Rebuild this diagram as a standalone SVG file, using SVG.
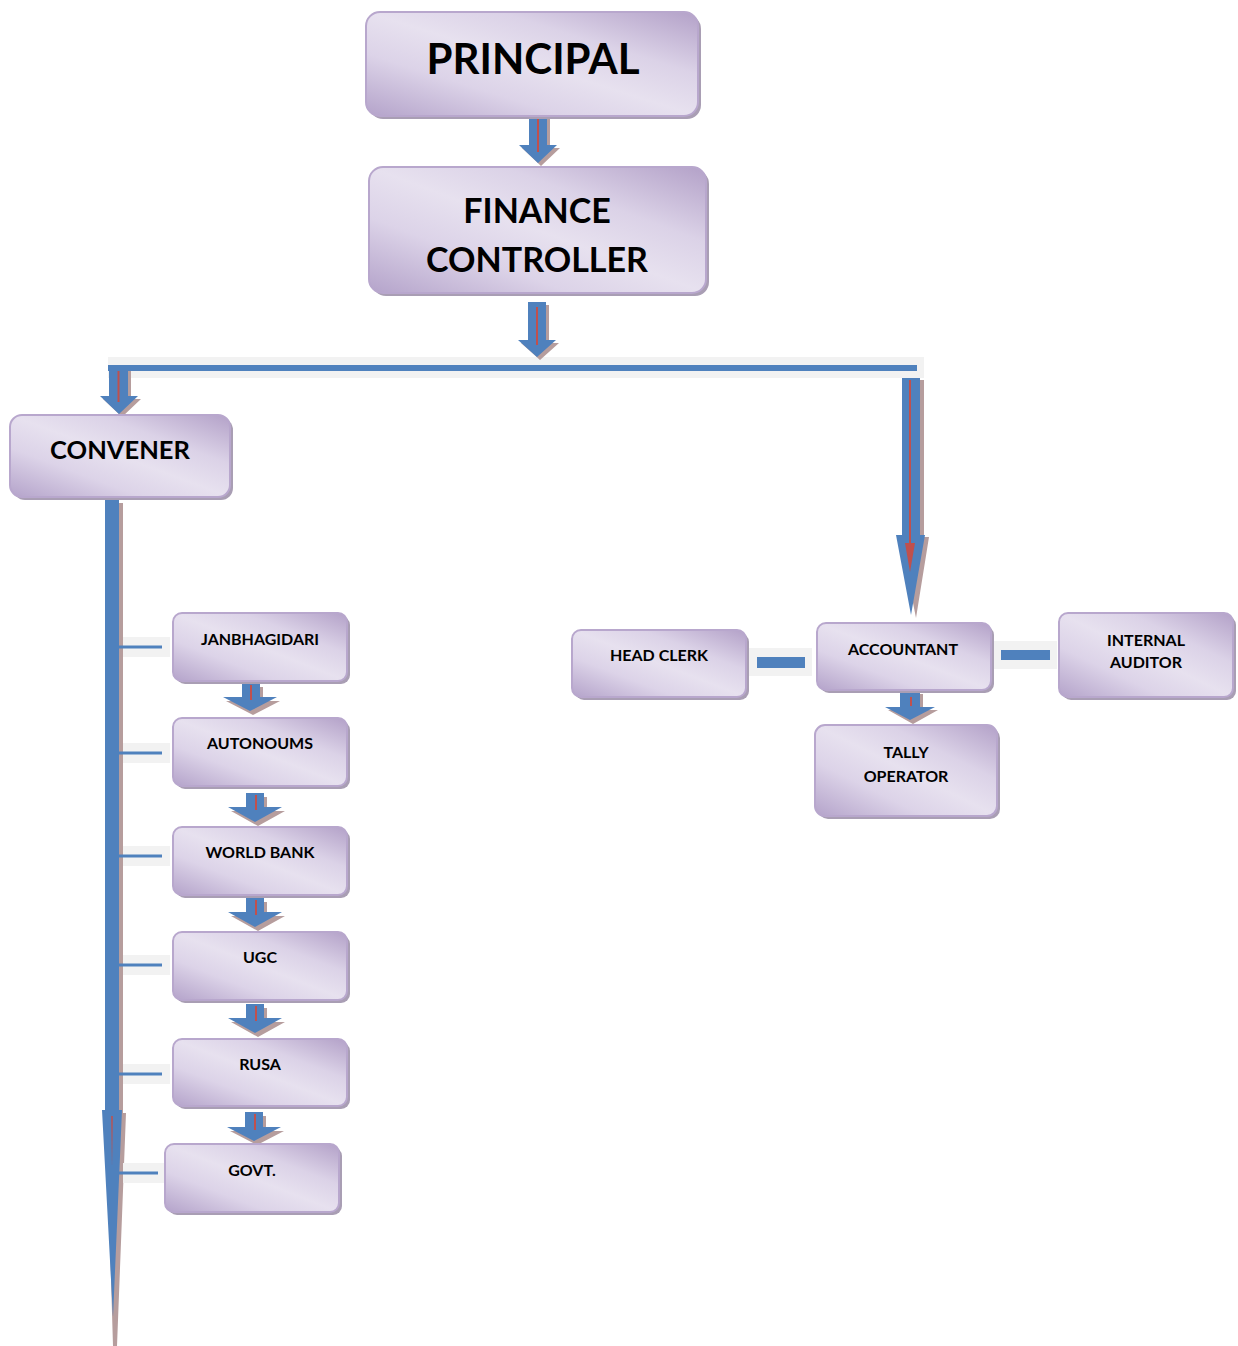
<svg xmlns="http://www.w3.org/2000/svg" width="1238" height="1346" viewBox="0 0 1238 1346">
<defs>
<linearGradient id="boxfill" x1="0" y1="1" x2="1" y2="0">
<stop offset="0" stop-color="#b4a3ca"/>
<stop offset="0.3" stop-color="#dcd3e8"/>
<stop offset="0.5" stop-color="#e7e1ef"/>
<stop offset="0.7" stop-color="#dbd2e7"/>
<stop offset="1" stop-color="#b3a1c8"/>
</linearGradient>
<style>
.box{fill:url(#boxfill);stroke:#b8a7cd;stroke-width:2}
.sh{fill:#a99eb4}
.lbl{font-family:Lato,"Open Sans","Liberation Sans",sans-serif;font-weight:700;text-anchor:middle;fill:#000}
.blue{fill:#4f81bd}
.ash{fill:#b69d9d}
.band{fill:#f2f2f2}
.red{stroke:#c0504d;stroke-width:2;fill:none}
.redf{fill:#c0504d}
</style>
</defs>
<rect width="1238" height="1346" fill="#fff"/>

<g id="connectors">
<!-- horizontal bus -->
<rect class="band" x="108" y="357" width="816" height="21"/>
<rect class="blue" x="108" y="365" width="809" height="6"/>
<!-- left vertical long arrow -->
<polygon class="ash" points="108,503 123,503 123,1113 126,1113 117,1346 113,1346 106,1113 108,1113"/>
<polygon class="blue" points="105,500 119,500 119,1110 122,1110 113,1317 102,1110 105,1110"/>
<polygon class="redf" points="111.2,1116 112.8,1116 112,1166"/>
<!-- ticks -->
<rect class="band" x="123" y="637" width="47" height="20"/>
<rect class="blue" x="119" y="645.5" width="43" height="3"/>
<rect class="band" x="123" y="743" width="47" height="20"/>
<rect class="blue" x="119" y="751.5" width="43" height="3"/>
<rect class="band" x="123" y="846" width="47" height="20"/>
<rect class="blue" x="119" y="854.5" width="43" height="3"/>
<rect class="band" x="123" y="955" width="47" height="20"/>
<rect class="blue" x="119" y="963.5" width="43" height="3"/>
<rect class="band" x="123" y="1064" width="47" height="20"/>
<rect class="blue" x="119" y="1072.5" width="43" height="3"/>
<rect class="band" x="123" y="1163" width="42" height="20"/>
<rect class="blue" x="119" y="1171.5" width="39" height="3"/>
<!-- principal -> finance controller -->
<polygon class="ash" points="532,114 550,114 550,148 560,148 541,166 522,148 532,148"/>
<polygon class="blue" points="529,111 547,111 547,145 557,145 538,163 519,145 529,145"/>
<line class="red" x1="538" y1="116" x2="538" y2="152"/>
<!-- finance controller -> bus -->
<polygon class="ash" points="531,305 549,305 549,343 559,343 540,360 521,343 531,343"/>
<polygon class="blue" points="528,302 546,302 546,340 556,340 537,357 518,340 528,340"/>
<line class="red" x1="537" y1="307" x2="537" y2="345"/>
<!-- bus -> convener -->
<polygon class="ash" points="112,371 131,371 131,399 141,399 122,417 103,399 112,399"/>
<polygon class="blue" points="109,368 128,368 128,396 138,396 119,414 100,396 109,396"/>
<line class="red" x1="118.5" y1="371" x2="118.5" y2="402"/>
<!-- bus -> accountant -->
<polygon class="ash" points="906,380 924,380 924,537 929,537 916,618 900,537 906,537"/>
<polygon class="blue" points="902,378 920,378 920,535 925,535 911,615 896,535 902,535"/>
<line class="red" x1="910" y1="380" x2="910" y2="545"/>
<polygon class="redf" points="905,543 915,543 910,572"/>
<!-- funding chain small arrows -->
<polygon class="ash" points="245,687 263,687 263,701 280,701 253,715 226,701 245,701"/>
<polygon class="blue" points="242,683 260,683 260,697 277,697 250,711 223,697 242,697"/>
<line class="red" x1="251" y1="685" x2="251" y2="700" stroke-width="1.5"/>

<polygon class="ash" points="249,797 267,797 267,811 285,811 258,826 231,811 249,811"/>
<polygon class="blue" points="246,793 264,793 264,807 282,807 255,822 228,807 246,807"/>
<line class="red" x1="256" y1="795" x2="256" y2="810" stroke-width="1.5"/>

<polygon class="ash" points="249,902 267,902 267,916 285,916 258,931 231,916 249,916"/>
<polygon class="blue" points="246,898 264,898 264,912 282,912 255,927 228,912 246,912"/>
<line class="red" x1="256" y1="900" x2="256" y2="915" stroke-width="1.5"/>

<polygon class="ash" points="249,1008 267,1008 267,1022 285,1022 258,1037 231,1022 249,1022"/>
<polygon class="blue" points="246,1004 264,1004 264,1018 282,1018 255,1033 228,1018 246,1018"/>
<line class="red" x1="256" y1="1006" x2="256" y2="1021" stroke-width="1.5"/>

<polygon class="ash" points="248,1116 266,1116 266,1131 284,1131 257,1145 230,1131 248,1131"/>
<polygon class="blue" points="245,1112 263,1112 263,1127 281,1127 254,1141 227,1127 245,1127"/>
<line class="red" x1="255" y1="1114" x2="255" y2="1130" stroke-width="1.5"/>
<!-- accountant -> tally -->
<polygon class="ash" points="903,694 923,694 923,710 938,710 913,724 888,710 903,710"/>
<polygon class="blue" points="900,691 920,691 920,707 935,707 910,720 885,707 900,707"/>
<line class="red" x1="911" y1="697" x2="911" y2="706" stroke-width="1.5"/>
<!-- side links -->
<rect class="band" x="748" y="648" width="64" height="28"/>
<rect class="blue" x="757" y="657" width="48" height="11"/>
<rect class="band" x="993" y="641" width="64" height="28"/>
<rect class="blue" x="1001" y="650" width="49" height="10"/>
</g>

<g id="principal">
<rect class="sh" x="369" y="15" width="332" height="104" rx="14"/>
<rect class="box" x="366" y="12" width="332" height="104" rx="14"/>
<text class="lbl" x="533" y="74" font-size="42">PRINCIPAL</text>
</g>
<g id="finance-controller">
<rect class="sh" x="372" y="170" width="337" height="126" rx="14"/>
<rect class="box" x="369" y="167" width="337" height="126" rx="14"/>
<text class="lbl" x="537" y="223" font-size="34">FINANCE</text>
<text class="lbl" x="537" y="272" font-size="34">CONTROLLER</text>
</g>
<g id="convener">
<rect class="sh" x="13" y="418" width="220" height="82" rx="12"/>
<rect class="box" x="10" y="415" width="220" height="82" rx="12"/>
<text class="lbl" x="120" y="459" font-size="25.5">CONVENER</text>
</g>
<g id="janbhagidari">
<rect class="sh" x="176" y="616" width="174" height="68" rx="9"/>
<rect class="box" x="173" y="613" width="174" height="68" rx="9"/>
<text class="lbl" x="260" y="645" font-size="16">JANBHAGIDARI</text>
</g>
<g id="autonoums">
<rect class="sh" x="176" y="721" width="174" height="68" rx="9"/>
<rect class="box" x="173" y="718" width="174" height="68" rx="9"/>
<text class="lbl" x="260" y="749" font-size="16">AUTONOUMS</text>
</g>
<g id="world-bank">
<rect class="sh" x="176" y="830" width="174" height="68" rx="9"/>
<rect class="box" x="173" y="827" width="174" height="68" rx="9"/>
<text class="lbl" x="260" y="858" font-size="16">WORLD BANK</text>
</g>
<g id="ugc">
<rect class="sh" x="176" y="935" width="174" height="68" rx="9"/>
<rect class="box" x="173" y="932" width="174" height="68" rx="9"/>
<text class="lbl" x="260" y="963" font-size="16">UGC</text>
</g>
<g id="rusa">
<rect class="sh" x="176" y="1042" width="174" height="67" rx="9"/>
<rect class="box" x="173" y="1039" width="174" height="67" rx="9"/>
<text class="lbl" x="260" y="1070" font-size="16">RUSA</text>
</g>
<g id="govt">
<rect class="sh" x="168" y="1147" width="174" height="68" rx="9"/>
<rect class="box" x="165" y="1144" width="174" height="68" rx="9"/>
<text class="lbl" x="252" y="1176" font-size="16">GOVT.</text>
</g>
<g id="head-clerk">
<rect class="sh" x="575" y="633" width="174" height="67" rx="9"/>
<rect class="box" x="572" y="630" width="174" height="67" rx="9"/>
<text class="lbl" x="659" y="661" font-size="16">HEAD CLERK</text>
</g>
<g id="accountant">
<rect class="sh" x="820" y="626" width="174" height="67" rx="9"/>
<rect class="box" x="817" y="623" width="174" height="67" rx="9"/>
<text class="lbl" x="903" y="655" font-size="16">ACCOUNTANT</text>
</g>
<g id="internal-auditor">
<rect class="sh" x="1062" y="616" width="174" height="84" rx="9"/>
<rect class="box" x="1059" y="613" width="174" height="84" rx="9"/>
<text class="lbl" x="1146" y="646" font-size="16">INTERNAL</text>
<text class="lbl" x="1146" y="668" font-size="16">AUDITOR</text>
</g>
<g id="tally-operator">
<rect class="sh" x="818" y="728" width="182" height="91" rx="10"/>
<rect class="box" x="815" y="725" width="182" height="91" rx="10"/>
<text class="lbl" x="906" y="758" font-size="16">TALLY</text>
<text class="lbl" x="906" y="782" font-size="16">OPERATOR</text>
</g>
</svg>
